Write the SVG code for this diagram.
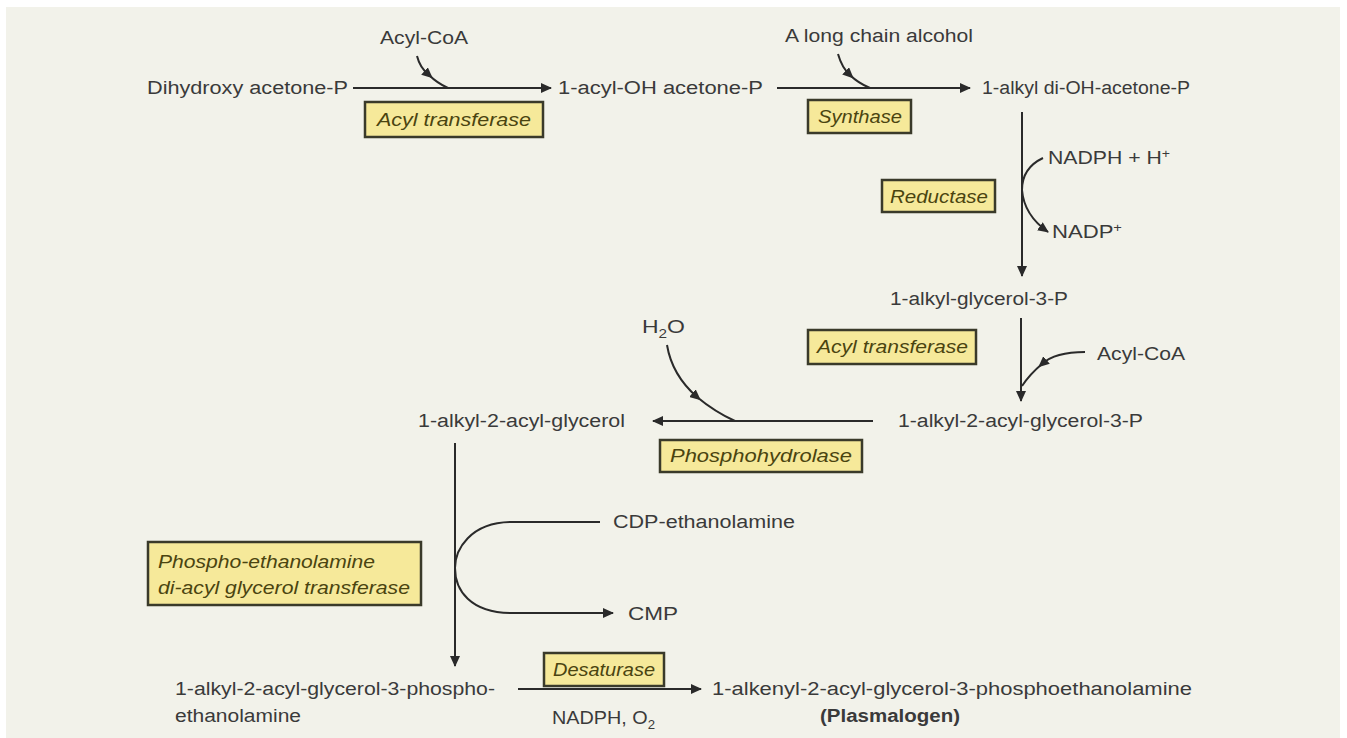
<svg xmlns="http://www.w3.org/2000/svg" width="1347" height="738" viewBox="0 0 1347 738">
<defs>
<marker id="ah" markerWidth="12" markerHeight="10" refX="10" refY="5" orient="auto" markerUnits="userSpaceOnUse"><path d="M0,0 L11,5 L0,10 Z" fill="#2a2a2a"/></marker>
<marker id="am" markerWidth="12" markerHeight="10" refX="6" refY="5" orient="auto" markerUnits="userSpaceOnUse"><path d="M0,0 L11,5 L0,10 Z" fill="#2a2a2a"/></marker>
<style>
text{font-family:"Liberation Sans",Arial,sans-serif;font-size:18px;fill:#3a3a3a}
.enz{font-style:italic;fill:#4a4410}
.b{font-weight:bold}
.box{fill:#f6e99a;stroke:#3a3a2a;stroke-width:2.5}
.ln{fill:none;stroke:#2a2a2a;stroke-width:2}
.arr{marker-end:url(#ah)}
.mid{marker-mid:url(#am)}
</style>
</defs>
<rect x="0" y="0" width="1347" height="738" fill="#ffffff"/>
<rect x="6" y="7" width="1334" height="731" fill="#f2f2ea"/>
<g id="connectors">
<path class="ln arr" d="M353,88 L551,88"/>
<path class="ln mid" d="M417,56 Q420,68 429,75 Q437,83 448,88"/>
<path class="ln arr" d="M777,88 L970,88"/>
<path class="ln mid" d="M838,54 Q842,68 850,75 Q858,83 870,88"/>
<path class="ln arr" d="M1022,112 L1022,276"/>
<path class="ln arr" d="M1043,158 Q1022,168 1022,190 Q1024,215 1048,232"/>
<path class="ln arr" d="M1021,318 L1021,401"/>
<path class="ln mid" d="M1085,352 Q1055,352 1042,364 Q1030,374 1022,386"/>
<path class="ln arr" d="M873,421 L653,421"/>
<path class="ln mid" d="M667,345 Q672,375 697,397 Q715,412 735,421"/>
<path class="ln arr" d="M455,443 L455,666"/>
<path class="ln arr" d="M600,522 L512,522 C470,522 455,550 455,568 C455,590 470,613 512,613 L613,613"/>
<path class="ln arr" d="M518,689 L701,689"/>
</g>
<g id="n-dhap"><text x="147" y="94" textLength="201" lengthAdjust="spacingAndGlyphs">Dihydroxy acetone-P</text></g>
<g id="n-acylcoa1"><text x="380" y="44" textLength="88" lengthAdjust="spacingAndGlyphs">Acyl-CoA</text></g>
<g id="e-acyltransferase1"><rect class="box" x="365" y="102" width="178" height="35"/><text class="enz" x="377" y="126" textLength="154" lengthAdjust="spacingAndGlyphs">Acyl transferase</text></g>
<g id="n-acyloh"><text x="558" y="94" textLength="205" lengthAdjust="spacingAndGlyphs">1-acyl-OH acetone-P</text></g>
<g id="n-alcohol"><text x="785" y="42" textLength="188" lengthAdjust="spacingAndGlyphs">A long chain alcohol</text></g>
<g id="e-synthase"><rect class="box" x="808" y="100" width="103" height="33"/><text class="enz" x="818" y="123" textLength="84" lengthAdjust="spacingAndGlyphs">Synthase</text></g>
<g id="n-alkyldioh"><text x="982" y="94" textLength="208" lengthAdjust="spacingAndGlyphs">1-alkyl di-OH-acetone-P</text></g>
<g id="n-nadph"><text x="1048" y="164" textLength="122" lengthAdjust="spacingAndGlyphs">NADPH + H<tspan dy="-6" font-size="12">+</tspan></text></g>
<g id="e-reductase"><rect class="box" x="882" y="180" width="113" height="32"/><text class="enz" x="890" y="203" textLength="98" lengthAdjust="spacingAndGlyphs">Reductase</text></g>
<g id="n-nadp"><text x="1052" y="238" textLength="70" lengthAdjust="spacingAndGlyphs">NADP<tspan dy="-6" font-size="12">+</tspan></text></g>
<g id="n-alkylg3p"><text x="890" y="305" textLength="178" lengthAdjust="spacingAndGlyphs">1-alkyl-glycerol-3-P</text></g>
<g id="e-acyltransferase2"><rect class="box" x="808" y="330" width="168" height="34"/><text class="enz" x="817" y="353" textLength="151" lengthAdjust="spacingAndGlyphs">Acyl transferase</text></g>
<g id="n-acylcoa2"><text x="1097" y="360" textLength="88" lengthAdjust="spacingAndGlyphs">Acyl-CoA</text></g>
<g id="n-alkylacylg3p"><text x="898" y="427" textLength="245" lengthAdjust="spacingAndGlyphs">1-alkyl-2-acyl-glycerol-3-P</text></g>
<g id="n-h2o"><text x="642" y="333" textLength="43" lengthAdjust="spacingAndGlyphs">H<tspan dy="5" font-size="12">2</tspan><tspan dy="-5">O</tspan></text></g>
<g id="e-phosphohydrolase"><rect class="box" x="660" y="440" width="202" height="32"/><text class="enz" x="670" y="462" textLength="182" lengthAdjust="spacingAndGlyphs">Phosphohydrolase</text></g>
<g id="n-alkylacylg"><text x="418" y="427" textLength="207" lengthAdjust="spacingAndGlyphs">1-alkyl-2-acyl-glycerol</text></g>
<g id="n-cdp"><text x="613" y="528" textLength="182" lengthAdjust="spacingAndGlyphs">CDP-ethanolamine</text></g>
<g id="n-cmp"><text x="628" y="620" textLength="50" lengthAdjust="spacingAndGlyphs">CMP</text></g>
<g id="e-petransferase"><rect class="box" x="148" y="542" width="273" height="63"/><text class="enz" x="158" y="568" textLength="217" lengthAdjust="spacingAndGlyphs">Phospho-ethanolamine</text><text class="enz" x="158" y="594" textLength="252" lengthAdjust="spacingAndGlyphs">di-acyl glycerol transferase</text></g>
<g id="n-alkylpe"><text x="175" y="695" textLength="320" lengthAdjust="spacingAndGlyphs">1-alkyl-2-acyl-glycerol-3-phospho-</text><text x="175" y="722" textLength="126" lengthAdjust="spacingAndGlyphs">ethanolamine</text></g>
<g id="e-desaturase"><rect class="box" x="544" y="653" width="120" height="33"/><text class="enz" x="553" y="676" textLength="102" lengthAdjust="spacingAndGlyphs">Desaturase</text></g>
<g id="n-nadpho2"><text x="552" y="724" textLength="103" lengthAdjust="spacingAndGlyphs">NADPH, O<tspan dy="5" font-size="12">2</tspan></text></g>
<g id="n-plasmalogen"><text x="712" y="695" textLength="480" lengthAdjust="spacingAndGlyphs">1-alkenyl-2-acyl-glycerol-3-phosphoethanolamine</text><text class="b" x="820" y="722" textLength="140" lengthAdjust="spacingAndGlyphs">(Plasmalogen)</text></g>
</svg>
